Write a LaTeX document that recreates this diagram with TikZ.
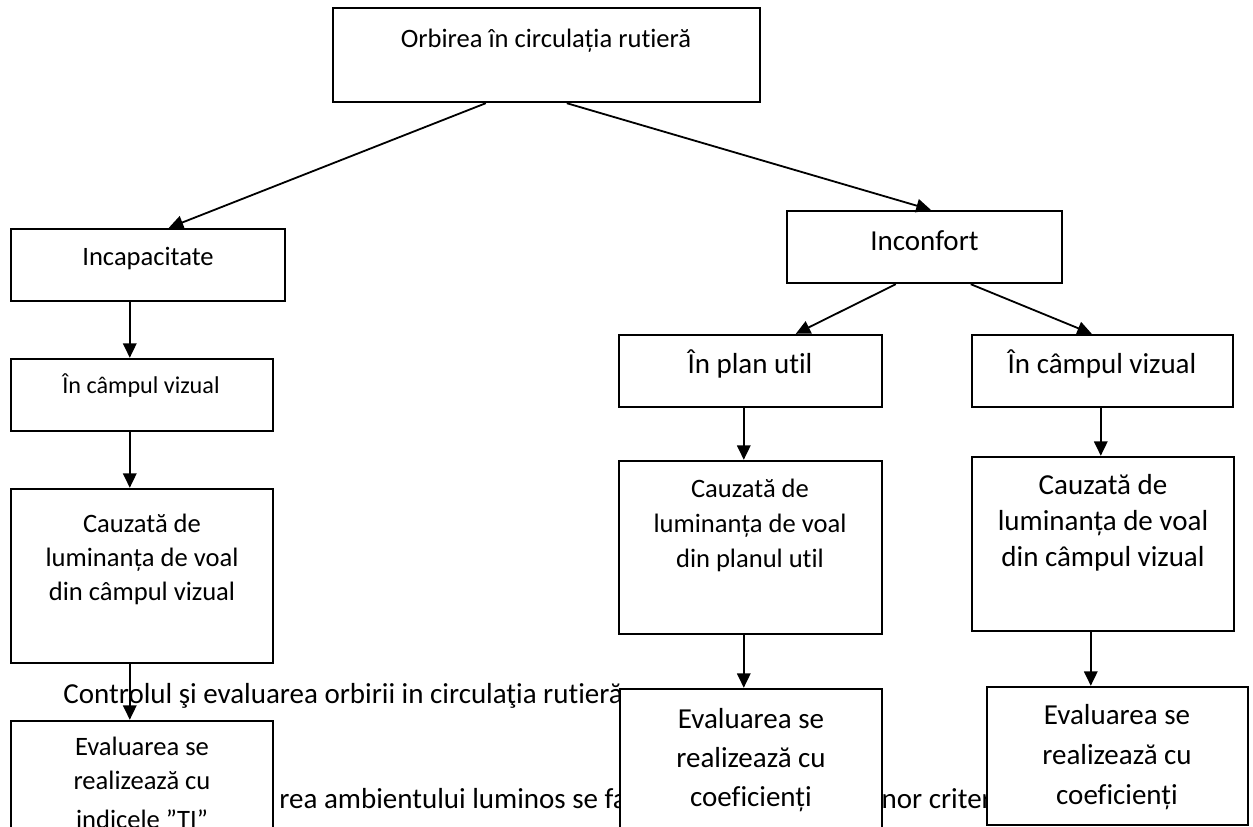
\documentclass[tikz,border=0pt]{standalone}
\usepackage{fontspec}
\setmainfont{Carlito}[Ligatures={NoCommon,NoContextual}]
\usetikzlibrary{arrows.meta,calc,fit}
\begin{document}
\begin{tikzpicture}[x=0.414pt,y=-0.414pt,
  box/.style={draw, line width=1pt, fill=white, inner sep=0pt},
  arr/.style={line width=0.75pt, -{Triangle[length=6pt,width=5.6pt]}},
  tten/.style={font=\fontsize{10}{12}\selectfont, inner sep=0pt, anchor=base},
  televen/.style={font=\fontsize{11}{13}\selectfont, inner sep=0pt, anchor=base},
  ttwelve/.style={font=\fontsize{12}{14}\selectfont, inner sep=0pt, anchor=base}]
\useasboundingbox (0,0) rectangle (1253,827);
\clip (0,0) rectangle (1253,827);

% background text lines (partly hidden by the boxes)
\node[ttwelve, anchor=base west] (bgA) at (63,703) {Controlul şi evaluarea orbirii in circulaţia rutieră};
\node[ttwelve, anchor=base west] (bgB) at (279,808) {rea ambientului luminos se face};
\node[ttwelve, anchor=base west] (bgC) at (866,808) {unor criterii};

% boxes
\node[box, fit={(333,8) (760,102)}] (top) {};
\node[box, fit={(11,229) (285,301)}] (inc) {};
\node[box, fit={(11,359) (273,431)}] (lcv) {};
\node[box, fit={(11,489) (273,663)}] (lca) {};
\node[box, fit={(11,721) (273,880)}] (lev) {};
\node[box, fit={(787,211) (1062,283)}] (inco) {};
\node[box, fit={(619,335) (882,407)}] (mpu) {};
\node[box, fit={(619,461) (882,634)}] (mca) {};
\node[box, fit={(620,689) (882,880)}] (mev) {};
\node[box, fit={(972,335) (1233,407)}] (rcv) {};
\node[box, fit={(972,457) (1234,631)}] (rca) {};
\node[box, fit={(987,687) (1248,825)}] (rev) {};

% connectors
\draw[arr] ($(top.south west)+(154,0)$) -- ($(inc.north west)+(159,0)$);
\draw[arr] ($(top.south west)+(235,0)$) -- ($(inco.north west)+(145,0)$);
\draw[arr] ($(inc.south west)+(120,0)$) -- ($(lcv.north west)+(120,0)$);
\draw[arr] ($(lcv.south west)+(120,0)$) -- ($(lca.north west)+(120,0)$);
\draw[arr] ($(lca.south west)+(120,0)$) -- ($(lev.north west)+(120,0)$);
\draw[arr] ($(inco.south west)+(110,0)$) -- ($(mpu.north west)+(178,0)$);
\draw[arr] ($(inco.south west)+(185,0)$) -- ($(rcv.north west)+(121,0)$);
\draw[arr] ($(mpu.south west)+(126,0)$) -- ($(mca.north west)+(126,0)$);
\draw[arr] ($(mca.south west)+(126,0)$) -- ($(mev.north west)+(125,0)$);
\draw[arr] ($(rcv.south west)+(130,0)$) -- ($(rca.north west)+(130,0)$);
\draw[arr] ($(rca.south west)+(120,0)$) -- ($(rev.north west)+(105,0)$);

% box texts
\node[televen] (top-t) at (546,47) {Orbirea în circulația rutieră};
\node[televen] (inc-t) at (148,265) {Incapacitate};
\node[tten] (lcv-t) at (141,393) {În câmpul vizual};
\node[televen] (lca-t1) at (142,532) {Cauzată de};
\node[televen] (lca-t2) at (142,566) {luminanța de voal};
\node[televen] (lca-t3) at (142,600) {din câmpul vizual};
\node[televen] (lev-t1) at (142,755) {Evaluarea se};
\node[televen] (lev-t2) at (142,789) {realizează cu};
\node[televen] (lev-t3) at (142,828) {indicele ”TI”};
\node[ttwelve] (inco-t) at (924.5,250) {Inconfort};
\node[ttwelve] (mpu-t) at (750,373) {În plan util};
\node[televen] (mca-t1) at (750,497) {Cauzată de};
\node[televen] (mca-t2) at (750,532) {luminanța de voal};
\node[televen] (mca-t3) at (750,567) {din planul util};
\node[ttwelve] (mev-t1) at (751,728) {Evaluarea se};
\node[ttwelve] (mev-t2) at (751,767) {realizează cu};
\node[ttwelve] (mev-t3) at (751,806) {coeficienți};
\node[ttwelve] (rcv-t) at (1102,373) {În câmpul vizual};
\node[ttwelve] (rca-t1) at (1103,494) {Cauzată de};
\node[ttwelve] (rca-t2) at (1103,530) {luminanța de voal};
\node[ttwelve] (rca-t3) at (1103,566) {din câmpul vizual};
\node[ttwelve] (rev-t1) at (1117,724) {Evaluarea se};
\node[ttwelve] (rev-t2) at (1117,764) {realizează cu};
\node[ttwelve] (rev-t3) at (1117,804) {coeficienți};
\end{tikzpicture}
\end{document}
